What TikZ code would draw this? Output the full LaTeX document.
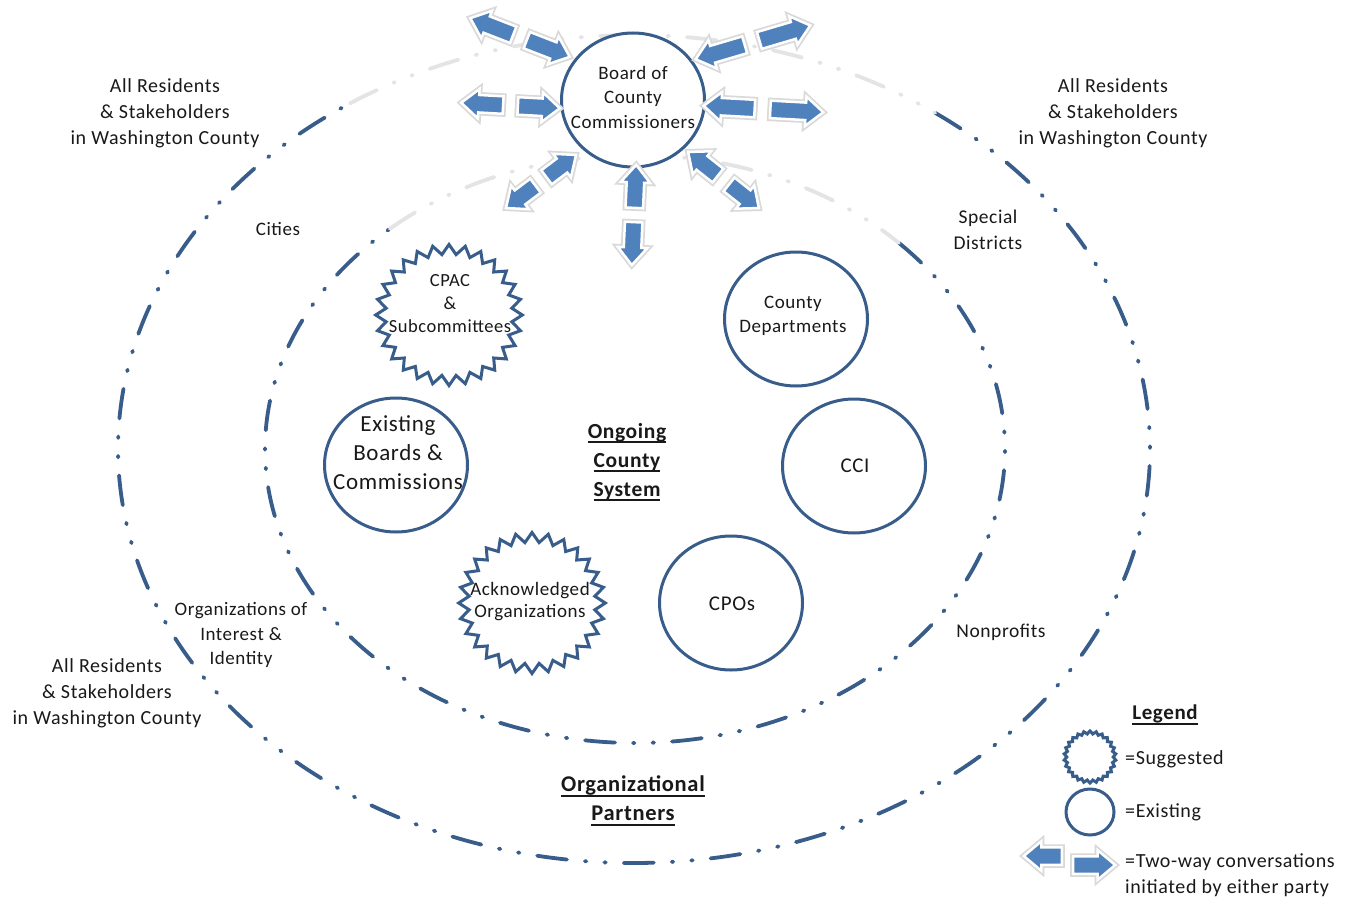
\documentclass[tikz,border=0pt]{standalone}
\usepackage{fontspec}
\setmainfont{Carlito}[LetterSpace=3]
\usetikzlibrary{shapes.geometric,shapes.arrows}
\definecolor{lineblue}{HTML}{385D8A}
\definecolor{arrowblue}{HTML}{4F81BD}
\definecolor{fadegray}{HTML}{E4E4E4}
\newcommand\ulx[1]{\leavevmode\setbox0\hbox{#1}\rlap{\vrule width\wd0 height -3pt depth 5pt}\box0}
\newcommand\twoway[5]{%
  \coordinate (#1i) at #2;
  \coordinate (#1o) at #3;
  \path (#1i) -- node[convarrow, pos=0.24, rotate=180, minimum height=#4] (#1a) {}
                 node[convarrow, pos=0.76, minimum height=#5] (#1b) {} (#1o);}
\begin{document}
\begin{tikzpicture}[x=1pt,y=-1pt,
  dashline/.style={draw=lineblue, line width=3.8pt, line cap=round,
    dash pattern=on 30pt off 18pt on 1.5pt off 18pt on 1.5pt off 18pt},
  fadeline/.style={dashline, draw=fadegray},
  existing/.style={ellipse, draw=lineblue, line width=3pt, fill=white, inner sep=0pt,
    minimum width=143pt, minimum height=134pt},
  suggested/.style={star, star points=28, star point ratio=1.16, draw=lineblue,
    line width=3pt, fill=white, inner sep=0pt, minimum size=141pt, xscale=1.04},
  arrowbase/.style={single arrow, single arrow tip angle=80, single arrow head extend=6pt,
    single arrow head indent=0pt, inner xsep=0pt, inner ysep=7.5pt, fill=arrowblue,
    draw=white, line width=2.5pt, preaction={draw=black!15, line width=6pt}},
  convarrow/.style={arrowbase, sloped, allow upside down},
  txt/.style={align=center, inner sep=0pt, text=black!90, font=\fontsize{20}{26}\selectfont},
  smalltxt/.style={txt, font=\fontsize{19}{24.5}\selectfont},
  bigtxt/.style={txt, font=\fontsize{23}{29}\selectfont},
  headtxt/.style={txt, font=\bfseries\fontsize{21.5}{29}\selectfont},
]
\useasboundingbox (0,0) rectangle (1350,899);
\fill[white] (0,0) rectangle (1350,899);

% ellipses
\draw[dashline] (634,449) ++(305.7:516 and 414) arc[start angle=305.7, end angle=596.6, x radius=516, y radius=414];
\draw[fadeline] (634,449) ++(236.6:516 and 414) arc[start angle=236.6, end angle=305.7, x radius=516, y radius=414];
\draw[dashline] (635,449) ++(315.5:370 and 294) arc[start angle=315.5, end angle=588.5, x radius=370, y radius=294];
\draw[fadeline] (635,449) ++(228.5:370 and 294) arc[start angle=228.5, end angle=315.5, x radius=370, y radius=294];

% board and arrows
\node[existing] (board) at (633,100) {};
\node[smalltxt] (boardtxt) at (633,97) {Board of\\County\\Commissioners};
\twoway{tl}{(565,55)}{(475,20)}{46pt}{46pt}
\twoway{l}{(555,108)}{(466,103)}{42pt}{42pt}
\twoway{bl}{(572,158)}{(510,205)}{37pt}{37pt}
\twoway{b}{(636,170)}{(632,260)}{43pt}{43pt}
\twoway{br}{(692,155)}{(755,205)}{38pt}{38pt}
\twoway{r}{(708,106)}{(818,112)}{51pt}{53pt}
\twoway{tr}{(700,58)}{(805,27)}{51pt}{53pt}

% inner groups
\node[suggested] (cpac) at (449,315) {};
\node[smalltxt, font=\fontsize{18.5}{23}\selectfont] (cpactxt) at (450,304) {CPAC\\\&\\Subcommittees};
\node[suggested] (ack) at (532,603) {};
\node[smalltxt, font=\fontsize{19}{22}\selectfont] (acktxt) at (530,602) {Acknowledged\\Organizations};
\node[existing] (countydep) at (796,319) {};
\node[smalltxt] (countydeptxt) at (793,316) {County\\Departments};
\node[existing] (cci) at (854,466) {};
\node[txt, font=\fontsize{21}{26}\selectfont] (ccitxt) at (855,466) {CCI};
\node[existing] (cpos) at (731,603) {};
\node[txt, font=\fontsize{21}{26}\selectfont] (cpostxt) at (732,604) {CPOs};
\node[existing] (exist) at (396,465) {};
\node[bigtxt] (existtxt) at (398,453) {Existing\\Boards \&\\Commissions};
\node[headtxt] (ongoing) at (627,462) {\ulx{Ongoing}\\\ulx{County}\\\ulx{System}};

% outer labels
\node[txt] (res1) at (165,113) {All Residents\\\& Stakeholders\\in Washington County};
\node[txt] (res2) at (1113,113) {All Residents\\\& Stakeholders\\in Washington County};
\node[txt] (res3) at (107,693) {All Residents\\\& Stakeholders\\in Washington County};
\node[txt, font=\fontsize{19}{26}\selectfont] (cities) at (278,229) {Cities};
\node[txt, font=\fontsize{19.5}{26}\selectfont] (special) at (988,230) {Special\\Districts};
\node[txt, font=\fontsize{19.5}{26}\selectfont] (nonprofits) at (1001,632) {Nonprofits};
\node[smalltxt, font=\fontsize{19}{24.5}\selectfont] (orgint) at (241,635) {Organizations of\\Interest \&\\Identity};
\node[headtxt, font=\bfseries\fontsize{22.5}{29}\selectfont] (orgpart) at (633,801) {\ulx{Organizational}\\\ulx{Partners}};

% legend
\node[headtxt, font=\bfseries\fontsize{21}{26}\selectfont] (legend) at (1165,715) {\ulx{Legend}};
\node[star, star points=26, star point ratio=1.12, draw=lineblue, line width=3pt, fill=white,
  inner sep=0pt, minimum size=52pt] (lgsugg) at (1090,757) {};
\node[ellipse, draw=lineblue, line width=3pt, inner sep=0pt, minimum width=48pt, minimum height=46pt] (lgexist) at (1090,812) {};
\node[arrowbase, rotate=180, minimum height=38pt] (lgarrl) at (1048,856) {};
\node[arrowbase, minimum height=42pt] (lgarrr) at (1089,865) {};
\node[txt, anchor=west] (lgsuggtxt) at (1125,759) {=Suggested};
\node[txt, anchor=west] (lgexisttxt) at (1125,812) {=Existing};
\node[txt, anchor=west, align=left] (lgarrtxt) at (1125,875) {=Two-way conversations\\initiated by either party};
\end{tikzpicture}
\end{document}
